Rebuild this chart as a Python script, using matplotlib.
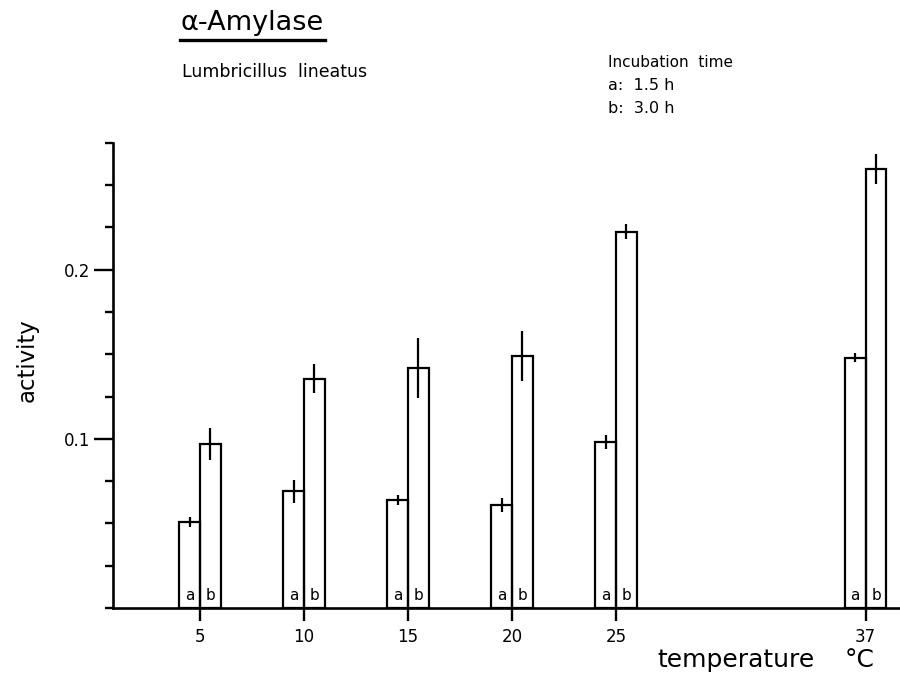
import numpy as np
import matplotlib.pyplot as plt
from matplotlib.lines import Line2D
from matplotlib.ticker import MultipleLocator

# temperature (deg C) and alpha-amylase activity after 1.5 h (a) and 3.0 h (b)
temps = np.array([5, 10, 15, 20, 25, 37])
act_a = np.array([0.051, 0.069, 0.064, 0.061, 0.098, 0.148])
err_a = np.array([0.003, 0.0067, 0.003, 0.004, 0.004, 0.0025])
act_b = np.array([0.097, 0.1355, 0.1417, 0.149, 0.2226, 0.2597])
err_b = np.array([0.0095, 0.0085, 0.0177, 0.0147, 0.0045, 0.009])
tick_labels = ['5', '10', '15', '20', '25', '37']

plt.rcParams['font.family'] = 'DejaVu Sans'

fig = plt.figure(figsize=(9, 6.86), dpi=100)
ax = fig.add_axes([0.1256, 0.1137, 0.8744, 0.678])

ax.bar(temps - 0.5, act_a, width=1.0, fill=False, edgecolor='black', linewidth=1.6)
ax.bar(temps + 0.5, act_b, width=1.0, fill=False, edgecolor='black', linewidth=1.6)
ax.errorbar(temps - 0.5, act_a, yerr=err_a, fmt='none', ecolor='black', elinewidth=1.6, capsize=0)
ax.errorbar(temps + 0.5, act_b, yerr=err_b, fmt='none', ecolor='black', elinewidth=1.6, capsize=0)

for t in temps:
    ax.text(t - 0.5, 0.0075, 'a', ha='center', va='center', fontsize=11)
    ax.text(t + 0.5, 0.0075, 'b', ha='center', va='center', fontsize=11)

ax.set_xlim(0.82, 38.65)
ax.set_ylim(0, 0.275)

for s in ['top', 'right']:
    ax.spines[s].set_visible(False)
for s in ['left', 'bottom']:
    ax.spines[s].set_linewidth(1.9)

ax.set_xticks(temps)
ax.set_xticklabels(tick_labels, fontsize=12)
ax.yaxis.set_major_locator(MultipleLocator(0.1))
ax.yaxis.set_minor_locator(MultipleLocator(0.025))
ax.set_yticks([0.1, 0.2])
ax.set_yticklabels(['0.1', '0.2'], fontsize=12)
ax.tick_params(axis='x', direction='out', length=9.5, width=1.7, pad=5)
ax.tick_params(axis='y', which='major', direction='out', length=13.5, width=1.7, pad=3)
ax.tick_params(axis='y', which='minor', direction='out', length=6, width=1.7)

# axis titles
fig.text(0.030, 0.475, 'activity', rotation=90, ha='center', va='center', fontsize=16.5)
fig.text(0.730, 0.038, 'temperature', ha='left', va='center', fontsize=18)
fig.text(0.938, 0.038, '°C', ha='left', va='center', fontsize=18)

# headings
fig.text(0.200, 0.966, 'α-Amylase', ha='left', va='center', fontsize=19.5)
fig.add_artist(Line2D([0.200, 0.361], [0.941, 0.941], color='black', linewidth=2.4,
                      transform=fig.transFigure))
fig.text(0.202, 0.895, 'Lumbricillus  lineatus', ha='left', va='center', fontsize=12.5)
fig.text(0.675, 0.909, 'Incubation  time', ha='left', va='center', fontsize=11)
fig.text(0.675, 0.875, 'a:  1.5 h', ha='left', va='center', fontsize=11.5)
fig.text(0.675, 0.842, 'b:  3.0 h', ha='left', va='center', fontsize=11.5)

fig.savefig('out.png', dpi=100)
